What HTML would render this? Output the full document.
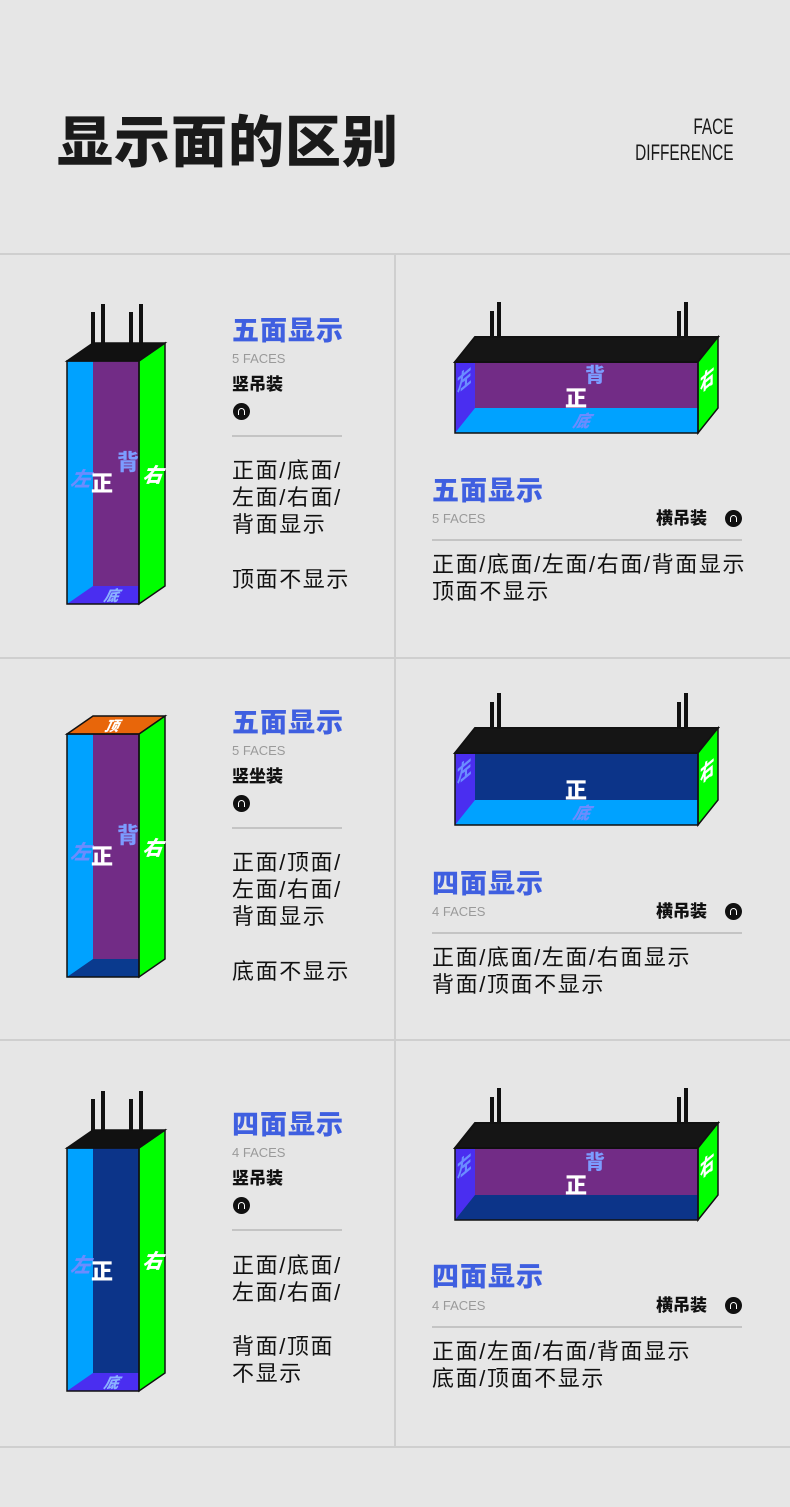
<!DOCTYPE html>
<html><head><meta charset="utf-8"><style>
html,body{margin:0;padding:0}
body{width:790px;height:1507px;background:#e6e6e6;position:relative;overflow:hidden;font-family:"Liberation Sans","Noto Sans CJK SC",sans-serif}
.a{position:absolute;white-space:nowrap}
.t{color:#3f5fe0;font-weight:900;font-size:27px;line-height:27px;letter-spacing:1px}
.f{color:#9a9a9a;font-size:13px;line-height:13px}
.k{color:#111;font-weight:900;font-size:17px;line-height:17px}
.b{color:#111;font-size:22px;line-height:27px;letter-spacing:1.6px}
.ic{position:absolute;width:17px;height:17px;border-radius:50%;background:#111}
.ic:after{content:"";position:absolute;left:5px;top:5px;width:5px;height:6px;border:1.5px solid #fff;border-bottom:none;border-radius:4px 4px 0 0}
.ln{position:absolute;height:2px;background:#c4c4c4}
</style></head><body>
<div class="a" style="left:57px;top:112px;font-size:56px;line-height:62px;font-weight:900;color:#1a1a1a;letter-spacing:1px">显示面的区别</div>
<div class="a" style="right:56px;top:114px;font-size:22px;line-height:26px;color:#1a1a1a;text-align:right;transform:scaleX(0.7);transform-origin:right top">FACE<br>DIFFERENCE</div>

<svg width="790" height="1507" style="position:absolute;left:0;top:0">
<g stroke="#cfcfcf" stroke-width="2">
<line x1="0" y1="254" x2="790" y2="254"/><line x1="0" y1="658" x2="790" y2="658"/>
<line x1="0" y1="1040" x2="790" y2="1040"/><line x1="0" y1="1447" x2="790" y2="1447"/>
<line x1="395" y1="254" x2="395" y2="1447"/>
</g>
<g font-family="Liberation Sans,Noto Sans CJK SC,sans-serif" font-weight="900">
<!-- Row1 vertical -->
<g stroke="#111" stroke-width="4"><line x1="93" y1="312" x2="93" y2="356"/><line x1="103" y1="304" x2="103" y2="348"/><line x1="131" y1="312" x2="131" y2="356"/><line x1="141" y1="304" x2="141" y2="348"/></g>
<rect x="67" y="361" width="26" height="243" fill="#00a2ff"/>
<rect x="93" y="343" width="46" height="243" fill="#722c86"/>
<polygon points="67,604 93,586 139,586 139,604" fill="#4a2ef0"/>
<polygon points="139,361 165,343 165,586 139,604" fill="#00ff00" stroke="#111" stroke-width="1.5"/>
<polygon points="67,361 93,343 165,343 139,361" fill="#111" stroke="#111" stroke-width="1.5"/>
<rect x="67" y="361" width="72" height="243" fill="none" stroke="#111" stroke-width="1.5"/>
<text font-size="20" fill="#6b8cff" transform="translate(70,486) skewX(-20)">左</text>
<text x="91" y="491" font-size="22" fill="#fff">正</text>
<text x="117" y="470" font-size="22" fill="#7c9cff">背</text>
<text font-size="20" fill="#fff" transform="translate(142,482) skewX(-20)">右</text>
<text font-size="15" fill="#8ab0ff" transform="translate(103,601) skewX(-25)">底</text>

<!-- Row2 vertical -->
<rect x="67" y="734" width="26" height="243" fill="#00a2ff"/>
<rect x="93" y="716" width="46" height="243" fill="#722c86"/>
<polygon points="67,977 93,959 139,959 139,977" fill="#0a3a8e"/>
<polygon points="139,734 165,716 165,959 139,977" fill="#00ff00" stroke="#111" stroke-width="1.5"/>
<polygon points="67,734 93,716 165,716 139,734" fill="#e8660a" stroke="#111" stroke-width="1.5"/>
<rect x="67" y="734" width="72" height="243" fill="none" stroke="#111" stroke-width="1.5"/>
<text font-size="14" fill="#fff" transform="translate(104,731) skewX(-25)">顶</text>
<text font-size="20" fill="#6b8cff" transform="translate(70,859) skewX(-20)">左</text>
<text x="91" y="864" font-size="22" fill="#fff">正</text>
<text x="117" y="843" font-size="22" fill="#7c9cff">背</text>
<text font-size="20" fill="#fff" transform="translate(142,855) skewX(-20)">右</text>

<!-- Row3 vertical -->
<g stroke="#111" stroke-width="4"><line x1="93" y1="1099" x2="93" y2="1143"/><line x1="103" y1="1091" x2="103" y2="1135"/><line x1="131" y1="1099" x2="131" y2="1143"/><line x1="141" y1="1091" x2="141" y2="1135"/></g>
<rect x="67" y="1148" width="26" height="243" fill="#00a2ff"/>
<rect x="93" y="1130" width="46" height="243" fill="#0c3489"/>
<polygon points="67,1391 93,1373 139,1373 139,1391" fill="#4a2ef0"/>
<polygon points="139,1148 165,1130 165,1373 139,1391" fill="#00ff00" stroke="#111" stroke-width="1.5"/>
<polygon points="67,1148 93,1130 165,1130 139,1148" fill="#111" stroke="#111" stroke-width="1.5"/>
<rect x="67" y="1148" width="72" height="243" fill="none" stroke="#111" stroke-width="1.5"/>
<text font-size="20" fill="#6b8cff" transform="translate(70,1272) skewX(-20)">左</text>
<text x="91" y="1279" font-size="22" fill="#fff">正</text>
<text font-size="20" fill="#fff" transform="translate(142,1268) skewX(-20)">右</text>
<text font-size="15" fill="#8ab0ff" transform="translate(103,1388) skewX(-25)">底</text>

<!-- Row1 horizontal -->
<g stroke="#111" stroke-width="4"><line x1="492" y1="311" x2="492" y2="352"/><line x1="499" y1="302" x2="499" y2="344"/><line x1="679" y1="311" x2="679" y2="352"/><line x1="686" y1="302" x2="686" y2="344"/></g>
<rect x="455" y="362" width="20" height="71" fill="#4a2ef0"/>
<rect x="475" y="337" width="223" height="71" fill="#722c86"/>
<polygon points="455,433 475,408 698,408 698,433" fill="#00a2ff"/>
<polygon points="455,362 475,337 718,337 698,362" fill="#151515" stroke="#111" stroke-width="2"/>
<polygon points="698,362 718,337 718,408 698,433" fill="#00ff00" stroke="#111" stroke-width="1.5"/>
<rect x="455" y="362" width="243" height="71" fill="none" stroke="#111" stroke-width="1.5"/>
<text x="585" y="382" font-size="20" fill="#7c9cff">背</text>
<text x="565" y="406" font-size="22" fill="#fff">正</text>
<text font-size="17" fill="#6b8cff" transform="translate(572,427) skewX(-25)">底</text>
<text font-size="16" fill="#6b8cff" transform="translate(457,393) scale(0.9,1.3) skewY(-30)">左</text>
<text font-size="16" fill="#fff" transform="translate(700,393) scale(0.9,1.3) skewY(-30)">右</text>

<!-- Row2 horizontal -->
<g stroke="#111" stroke-width="4"><line x1="492" y1="702" x2="492" y2="743"/><line x1="499" y1="693" x2="499" y2="735"/><line x1="679" y1="702" x2="679" y2="743"/><line x1="686" y1="693" x2="686" y2="735"/></g>
<rect x="455" y="753" width="20" height="72" fill="#4a2ef0"/>
<rect x="475" y="728" width="223" height="72" fill="#0c3489"/>
<polygon points="455,825 475,800 698,800 698,825" fill="#00a2ff"/>
<polygon points="455,753 475,728 718,728 698,753" fill="#151515" stroke="#111" stroke-width="2"/>
<polygon points="698,753 718,728 718,800 698,825" fill="#00ff00" stroke="#111" stroke-width="1.5"/>
<rect x="455" y="753" width="243" height="72" fill="none" stroke="#111" stroke-width="1.5"/>
<text x="565" y="798" font-size="22" fill="#fff">正</text>
<text font-size="17" fill="#6b8cff" transform="translate(572,819) skewX(-25)">底</text>
<text font-size="16" fill="#6b8cff" transform="translate(457,784) scale(0.9,1.3) skewY(-30)">左</text>
<text font-size="16" fill="#fff" transform="translate(700,784) scale(0.9,1.3) skewY(-30)">右</text>

<!-- Row3 horizontal -->
<g stroke="#111" stroke-width="4"><line x1="492" y1="1097" x2="492" y2="1138"/><line x1="499" y1="1088" x2="499" y2="1130"/><line x1="679" y1="1097" x2="679" y2="1138"/><line x1="686" y1="1088" x2="686" y2="1130"/></g>
<rect x="455" y="1148" width="20" height="72" fill="#4a2ef0"/>
<rect x="475" y="1123" width="223" height="72" fill="#722c86"/>
<polygon points="455,1220 475,1195 698,1195 698,1220" fill="#0c3489"/>
<polygon points="455,1148 475,1123 718,1123 698,1148" fill="#151515" stroke="#111" stroke-width="2"/>
<polygon points="698,1148 718,1123 718,1195 698,1220" fill="#00ff00" stroke="#111" stroke-width="1.5"/>
<rect x="455" y="1148" width="243" height="72" fill="none" stroke="#111" stroke-width="1.5"/>
<text x="585" y="1169" font-size="20" fill="#7c9cff">背</text>
<text x="565" y="1193" font-size="22" fill="#fff">正</text>
<text font-size="16" fill="#6b8cff" transform="translate(457,1179) scale(0.9,1.3) skewY(-30)">左</text>
<text font-size="16" fill="#fff" transform="translate(700,1179) scale(0.9,1.3) skewY(-30)">右</text>
</g>
</svg>

<!-- Row1 left text -->
<div class="a t" style="left:232px;top:318px">五面显示</div>
<div class="a f" style="left:232px;top:352px">5 FACES</div>
<div class="a k" style="left:232px;top:376px">竖吊装</div>
<div class="ic" style="left:233px;top:403px"></div>
<div class="ln" style="left:232px;top:435px;width:110px"></div>
<div class="a b" style="left:232px;top:457px">正面/底面/<br>左面/右面/<br>背面显示</div>
<div class="a b" style="left:232px;top:566px">顶面不显示</div>
<!-- Row1 right -->
<div class="a t" style="left:432px;top:478px">五面显示</div>
<div class="a f" style="left:432px;top:512px">5 FACES</div>
<div class="a k" style="left:656px;top:510px">横吊装</div>
<div class="ic" style="left:725px;top:510px"></div>
<div class="ln" style="left:432px;top:539px;width:310px"></div>
<div class="a b" style="left:432px;top:551px">正面/底面/左面/右面/背面显示<br>顶面不显示</div>

<!-- Row2 left -->
<div class="a t" style="left:232px;top:710px">五面显示</div>
<div class="a f" style="left:232px;top:744px">5 FACES</div>
<div class="a k" style="left:232px;top:768px">竖坐装</div>
<div class="ic" style="left:233px;top:795px"></div>
<div class="ln" style="left:232px;top:827px;width:110px"></div>
<div class="a b" style="left:232px;top:849px">正面/顶面/<br>左面/右面/<br>背面显示</div>
<div class="a b" style="left:232px;top:958px">底面不显示</div>
<!-- Row2 right -->
<div class="a t" style="left:432px;top:871px">四面显示</div>
<div class="a f" style="left:432px;top:905px">4 FACES</div>
<div class="a k" style="left:656px;top:903px">横吊装</div>
<div class="ic" style="left:725px;top:903px"></div>
<div class="ln" style="left:432px;top:932px;width:310px"></div>
<div class="a b" style="left:432px;top:944px">正面/底面/左面/右面显示<br>背面/顶面不显示</div>

<!-- Row3 left -->
<div class="a t" style="left:232px;top:1112px">四面显示</div>
<div class="a f" style="left:232px;top:1146px">4 FACES</div>
<div class="a k" style="left:232px;top:1170px">竖吊装</div>
<div class="ic" style="left:233px;top:1197px"></div>
<div class="ln" style="left:232px;top:1229px;width:110px"></div>
<div class="a b" style="left:232px;top:1252px">正面/底面/<br>左面/右面/</div>
<div class="a b" style="left:232px;top:1333px">背面/顶面<br>不显示</div>
<!-- Row3 right -->
<div class="a t" style="left:432px;top:1264px">四面显示</div>
<div class="a f" style="left:432px;top:1299px">4 FACES</div>
<div class="a k" style="left:656px;top:1297px">横吊装</div>
<div class="ic" style="left:725px;top:1297px"></div>
<div class="ln" style="left:432px;top:1326px;width:310px"></div>
<div class="a b" style="left:432px;top:1338px">正面/左面/右面/背面显示<br>底面/顶面不显示</div>
</body></html>
